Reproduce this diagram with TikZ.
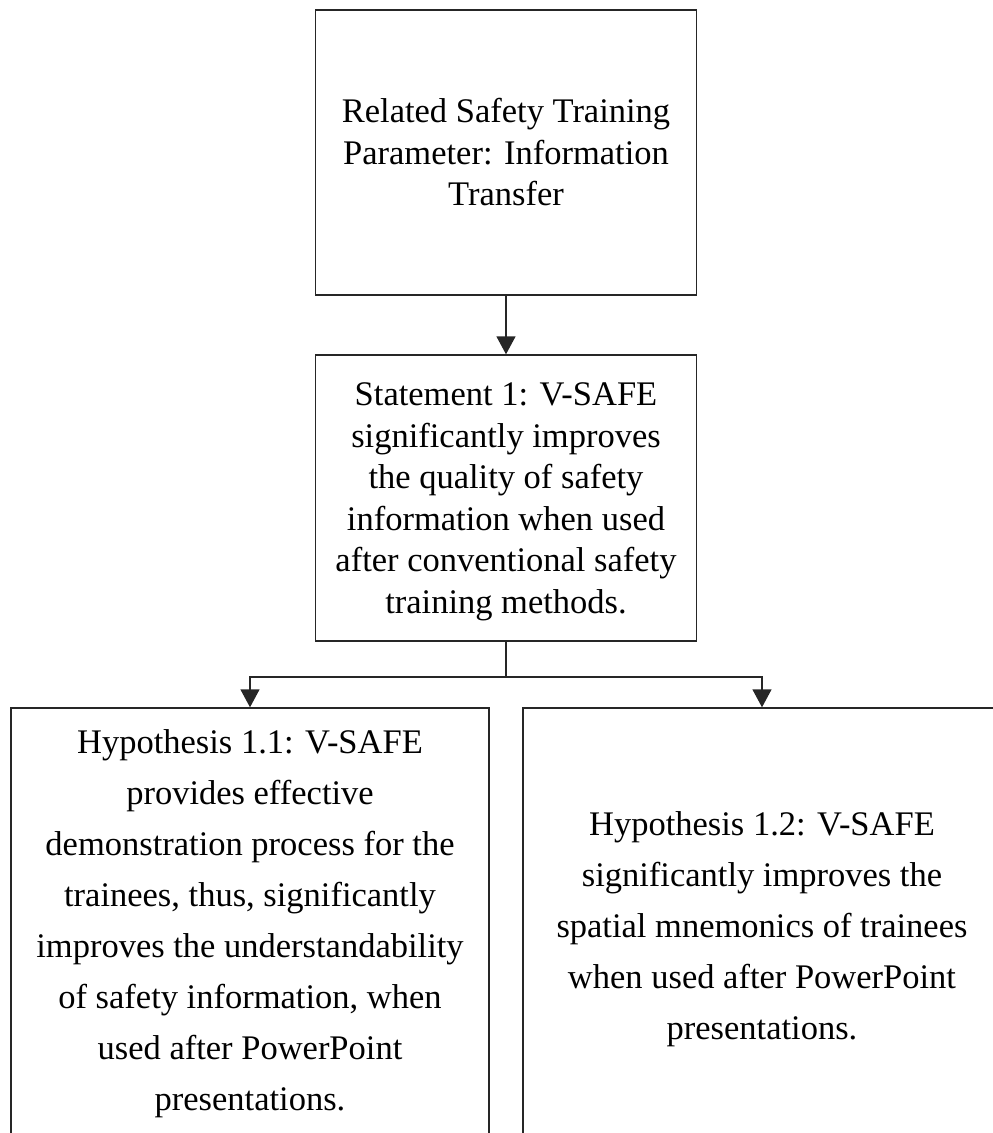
\documentclass[tikz,border=0pt]{standalone}
\usepackage{fontspec}
\setmainfont{Liberation Serif}
\usetikzlibrary{arrows.meta}
\begin{document}
\begin{tikzpicture}[x=1pt,y=-1pt,
  box/.style={draw=black!85, line width=1.4pt, inner sep=0pt, align=center},
  upper/.style={box, minimum width=381pt, font=\fontsize{34.5}{41.5}\selectfont},
  lower/.style={box, minimum width=478pt, minimum height=431pt, font=\fontsize{34.5}{51}\selectfont},
  wire/.style={line width=1.5pt, draw=black!85},
  link/.style={wire, -{Triangle[length=18pt,width=19pt]}}]
\useasboundingbox (0,0) rectangle (993,1133);
\clip (0,0) rectangle (993,1133);
% parameter and statement
\node[upper, minimum height=285pt] (param) at (506,152.5)
  {Related Safety Training\\Parameter: Information\\Transfer};
\node[upper, minimum height=286pt] (stmt) at (506,498)
  {\rule{0pt}{30pt}Statement 1: V-SAFE\\significantly improves\\the quality of safety\\information when used\\after conventional safety\\training methods.};
% hypotheses
\node[lower] (hypA) at (250,923.5)
  {Hypothesis 1.1: V-SAFE\\provides effective\\demonstration process for the\\trainees, thus, significantly\\improves the understandability\\of safety information, when\\used after PowerPoint\\presentations.};
\node[lower] (hypB) at (762,923.5)
  {\rule{0pt}{36pt}Hypothesis 1.2: V-SAFE\\significantly improves the\\spatial mnemonics of trainees\\when used after PowerPoint\\presentations.};
% connectors
\coordinate (fork) at (506,677);
\draw[link] (param.south) -- (stmt.north);
\draw[wire] (stmt.south) -- (fork);
\draw[link] (fork) -| (hypA.north);
\draw[link] (fork) -| (hypB.north);
\end{tikzpicture}
\end{document}
